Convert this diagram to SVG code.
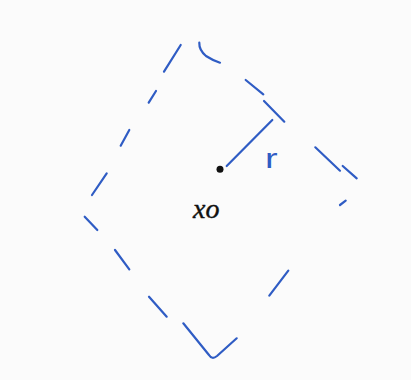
<svg xmlns="http://www.w3.org/2000/svg" width="411" height="380" viewBox="0 0 411 380">
<style>
.d{fill:none;stroke:#2f5cc4;stroke-width:2.2;stroke-linecap:round;stroke-linejoin:round}
.r{fill:#2f5cc4;font-family:"Liberation Sans",sans-serif;font-size:28px}
.x{fill:#111;stroke:#111;stroke-width:0.4;font-family:"Liberation Serif",serif;font-style:italic;font-size:28px}
</style>
<rect width="411" height="380" fill="#fbfbfb"/>
<g id="square">
<path class="d" d="M180.7,45 L164,71.7"/>
<path class="d" d="M156,91 L148.7,102.7"/>
<path class="d" d="M129.3,130 L120.7,145.7"/>
<path class="d" d="M106.7,173.3 L92,195"/>
<path class="d" d="M84.7,216.7 L97.3,230"/>
<path class="d" d="M115,250 L129.3,269.3"/>
<path class="d" d="M149,296.7 L166.7,316.7"/>
<path class="d" d="M183.3,323.3 L209,355 Q212,360 217,356 L236.7,338.3"/>
<path class="d" d="M288.3,270.7 L269.3,295.7"/>
<path class="d" d="M345.7,200.7 L340,205"/>
<path class="d" d="M199.3,42.7 Q199,50 206,56 Q212,60 220,62.7"/>
<path class="d" d="M245.7,80 L263.3,94.3"/>
<path class="d" d="M264,101 L284.3,121.7"/>
<path class="d" d="M315.3,147.3 L340,170.7"/>
<path class="d" d="M342.7,166 L356.7,178.3"/>
</g>
<g id="radius">
<path class="d" d="M272.3,120 L226.7,166"/>
<circle cx="220" cy="169.3" r="3.5" fill="#111"/>
<text class="r" x="265" y="168" transform="translate(265 168) scale(1.35 1) translate(-265 -168)">r</text>
</g>
<g id="center">
<text class="x" x="193" y="218">xo</text>
</g>
</svg>
